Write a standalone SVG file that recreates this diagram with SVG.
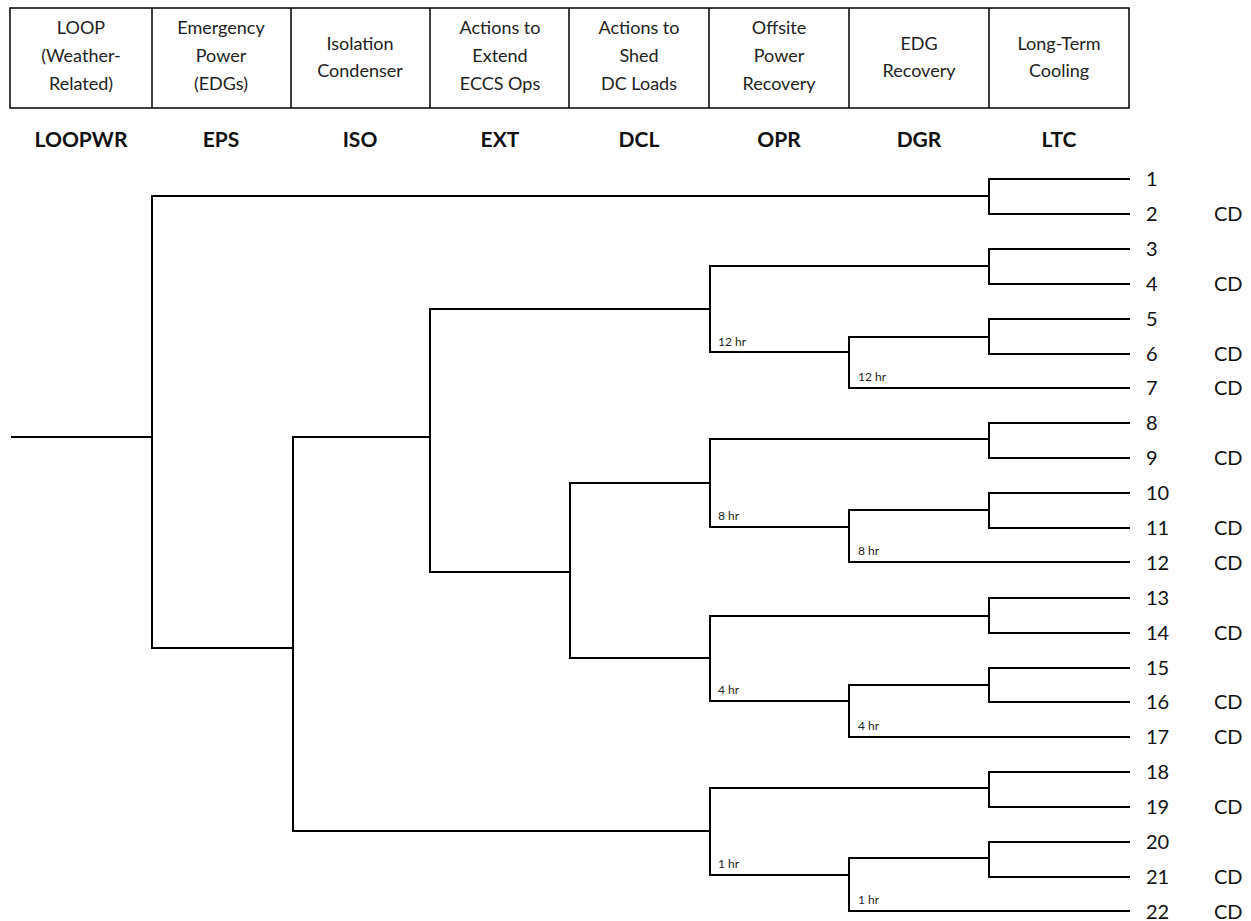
<svg xmlns="http://www.w3.org/2000/svg" width="1251" height="921" viewBox="0 0 1251 921">
<style>
.hdr{font-family:Lato,"Liberation Sans",sans-serif;font-size:18px;fill:#222;text-anchor:middle}
.code{font-family:Lato,"Liberation Sans",sans-serif;font-size:21px;font-weight:bold;fill:#111;text-anchor:middle}
.num{font-family:Lato,"Liberation Sans",sans-serif;font-size:20px;fill:#111}
.t{font-family:Lato,"Liberation Sans",sans-serif;font-size:12px;fill:#222}
.box{fill:none;stroke:#000;stroke-width:1.5}
.br{fill:none;stroke:#000;stroke-width:2;stroke-linecap:square}
</style>
<rect width="1251" height="921" fill="#fff"/>
<g id="header">
<rect class="box" x="10" y="8" width="1119" height="100"/>
<path class="box" d="M152 8V108M291 8V108M430 8V108M569 8V108M709 8V108M849 8V108M989 8V108"/>
<text class="hdr" x="81" y="34">LOOP</text><text class="hdr" x="81" y="62">(Weather-</text><text class="hdr" x="81" y="90">Related)</text>
<text class="hdr" x="221" y="34">Emergency</text><text class="hdr" x="221" y="62">Power</text><text class="hdr" x="221" y="90">(EDGs)</text>
<text class="hdr" x="360" y="50">Isolation</text><text class="hdr" x="360" y="77">Condenser</text>
<text class="hdr" x="500" y="34">Actions to</text><text class="hdr" x="500" y="62">Extend</text><text class="hdr" x="500" y="90">ECCS Ops</text>
<text class="hdr" x="639" y="34">Actions to</text><text class="hdr" x="639" y="62">Shed</text><text class="hdr" x="639" y="90">DC Loads</text>
<text class="hdr" x="779" y="34">Offsite</text><text class="hdr" x="779" y="62">Power</text><text class="hdr" x="779" y="90">Recovery</text>
<text class="hdr" x="919" y="50">EDG</text><text class="hdr" x="919" y="77">Recovery</text>
<text class="hdr" x="1059" y="50">Long-Term</text><text class="hdr" x="1059" y="77">Cooling</text>
</g>
<g id="codes">
<text class="code" x="81" y="147">LOOPWR</text>
<text class="code" x="221" y="147">EPS</text>
<text class="code" x="360" y="147">ISO</text>
<text class="code" x="500" y="147">EXT</text>
<text class="code" x="639" y="147">DCL</text>
<text class="code" x="779" y="147">OPR</text>
<text class="code" x="919" y="147">DGR</text>
<text class="code" x="1059" y="147">LTC</text>
</g>
<g id="connectors">
<path class="br" d="M12 437H152M152 196V648"/>
<path class="br" d="M152 196H989M989 179V214M989 179H1129M989 214H1129"/>
<path class="br" d="M152 648H293M293 437V831"/>
<path class="br" d="M293 437H430M430 309V572"/>
<path class="br" d="M430 309H710M710 266V352"/>
<path class="br" d="M710 266H989M989 249V284M989 249H1129M989 284H1129"/>
<path class="br" d="M710 352H849M849 337V388M849 337H989M989 319V354M989 319H1129M989 354H1129M849 388H1129"/>
<path class="br" d="M430 572H570M570 483V658"/>
<path class="br" d="M570 483H710M710 439V527"/>
<path class="br" d="M710 439H989M989 423V458M989 423H1129M989 458H1129"/>
<path class="br" d="M710 527H849M849 510V562M849 510H989M989 493V528M989 493H1129M989 528H1129M849 562H1129"/>
<path class="br" d="M570 658H710M710 616V701"/>
<path class="br" d="M710 616H989M989 598V633M989 598H1129M989 633H1129"/>
<path class="br" d="M710 701H849M849 685V737M849 685H989M989 668V702M989 668H1129M989 702H1129M849 737H1129"/>
<path class="br" d="M293 831H710M710 788V875"/>
<path class="br" d="M710 788H989M989 772V807M989 772H1129M989 807H1129"/>
<path class="br" d="M710 875H849M849 858V911M849 858H989M989 842V877M989 842H1129M989 877H1129M849 911H1129"/>
</g>
<g id="time-labels">
<text class="t" x="718" y="346">12 hr</text><text class="t" x="858" y="381">12 hr</text>
<text class="t" x="718" y="520">8 hr</text><text class="t" x="858" y="555">8 hr</text>
<text class="t" x="718" y="694">4 hr</text><text class="t" x="858" y="730">4 hr</text>
<text class="t" x="718" y="868">1 hr</text><text class="t" x="858" y="904">1 hr</text>
</g>
<g id="endstates">
<text class="num" x="1146" y="186">1</text>
<text class="num" x="1146" y="221">2</text><text class="num" x="1214" y="221">CD</text>
<text class="num" x="1146" y="256">3</text>
<text class="num" x="1146" y="291">4</text><text class="num" x="1214" y="291">CD</text>
<text class="num" x="1146" y="326">5</text>
<text class="num" x="1146" y="361">6</text><text class="num" x="1214" y="361">CD</text>
<text class="num" x="1146" y="395">7</text><text class="num" x="1214" y="395">CD</text>
<text class="num" x="1146" y="430">8</text>
<text class="num" x="1146" y="465">9</text><text class="num" x="1214" y="465">CD</text>
<text class="num" x="1146" y="500">10</text>
<text class="num" x="1146" y="535">11</text><text class="num" x="1214" y="535">CD</text>
<text class="num" x="1146" y="570">12</text><text class="num" x="1214" y="570">CD</text>
<text class="num" x="1146" y="605">13</text>
<text class="num" x="1146" y="640">14</text><text class="num" x="1214" y="640">CD</text>
<text class="num" x="1146" y="675">15</text>
<text class="num" x="1146" y="709">16</text><text class="num" x="1214" y="709">CD</text>
<text class="num" x="1146" y="744">17</text><text class="num" x="1214" y="744">CD</text>
<text class="num" x="1146" y="779">18</text>
<text class="num" x="1146" y="814">19</text><text class="num" x="1214" y="814">CD</text>
<text class="num" x="1146" y="849">20</text>
<text class="num" x="1146" y="884">21</text><text class="num" x="1214" y="884">CD</text>
<text class="num" x="1146" y="919">22</text><text class="num" x="1214" y="919">CD</text>
</g>
</svg>
